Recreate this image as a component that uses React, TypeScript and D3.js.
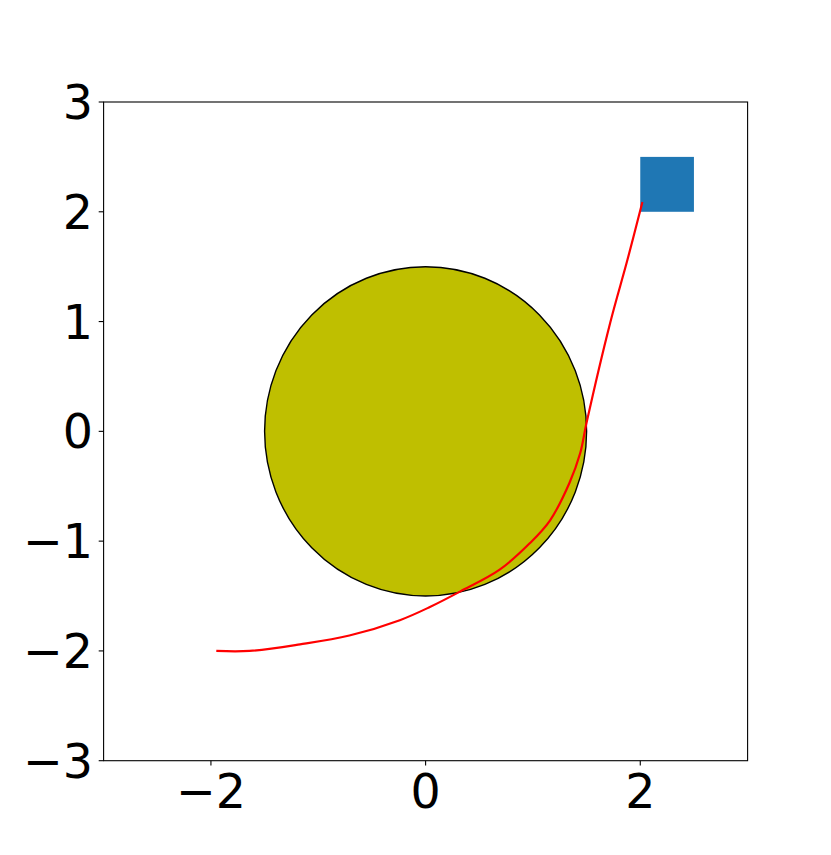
import React from "react"
import * as d3 from "d3"

const xTicks = [-2, 0, 2]
const yTicks = [-3, -2, -1, 0, 1, 2, 3]

// disc at origin
const circleCenter = [0, 0]
const circleRadius = 1.5

// square corners
const squareX = [2, 2.5]
const squareY = [2, 2.5]

// red path
const pathX = [-1.95, -1.64, -1.17, -0.71, -0.24, 0.04, 0.32, 0.69, 0.97, 1.16, 1.34, 1.44, 1.5, 1.72, 1.88, 2.02]
const pathY = [-2.0, -2.0, -1.94, -1.86, -1.72, -1.6, -1.46, -1.26, -1.02, -0.81, -0.47, -0.2, 0.08, 0.99, 1.56, 2.09]

const fmt = (v: number) => (v < 0 ? "\u2212" + Math.abs(v) : String(v))

export default function App() {
  const w = 831
  const h = 855
  const left = 103.6
  const right = 747.6
  const top = 102
  const bottom = 760.7

  const x = d3.scaleLinear().domain([-3, 3]).range([left, right])
  const y = d3.scaleLinear().domain([-3, 3]).range([bottom, top])

  const line = d3
    .line<number>()
    .x((d, i) => x(pathX[i]))
    .y((d, i) => y(pathY[i]))
    .curve(d3.curveCatmullRom.alpha(0.5))

  const font = "'DejaVu Sans', sans-serif"

  return (
    <svg width={w} height={h} style={{ position: "absolute", left: 0, top: 0 }}>
      <rect width={w} height={h} fill="#fff" />
      <ellipse
        cx={x(circleCenter[0])}
        cy={y(circleCenter[1])}
        rx={x(circleRadius) - x(0)}
        ry={y(0) - y(circleRadius)}
        fill="#bfbf00"
        stroke="#000"
        strokeWidth={1.4}
      />
      <rect
        x={x(squareX[0])}
        y={y(squareY[1])}
        width={x(squareX[1]) - x(squareX[0])}
        height={y(squareY[0]) - y(squareY[1])}
        fill="#1f77b4"
      />
      <path d={line(pathX) || ""} fill="none" stroke="red" strokeWidth={2.2} />
      <rect x={left} y={top} width={right - left} height={bottom - top} fill="none" stroke="#000" strokeWidth={1.1} />
      {xTicks.map(t => (
        <g key={"x" + t}>
          <line x1={x(t)} x2={x(t)} y1={bottom} y2={bottom + 4.9} stroke="#000" strokeWidth={1.1} />
          <text x={x(t)} y={807.5} textAnchor="middle" fontFamily={font} fontSize={47.5}>
            {fmt(t)}
          </text>
        </g>
      ))}
      {yTicks.map(t => (
        <g key={"y" + t}>
          <line x1={left - 4.9} x2={left} y1={y(t)} y2={y(t)} stroke="#000" strokeWidth={1.1} />
          <text x={93} y={y(t)} dy="0.36em" textAnchor="end" fontFamily={font} fontSize={47.5}>
            {fmt(t)}
          </text>
        </g>
      ))}
    </svg>
  )
}
